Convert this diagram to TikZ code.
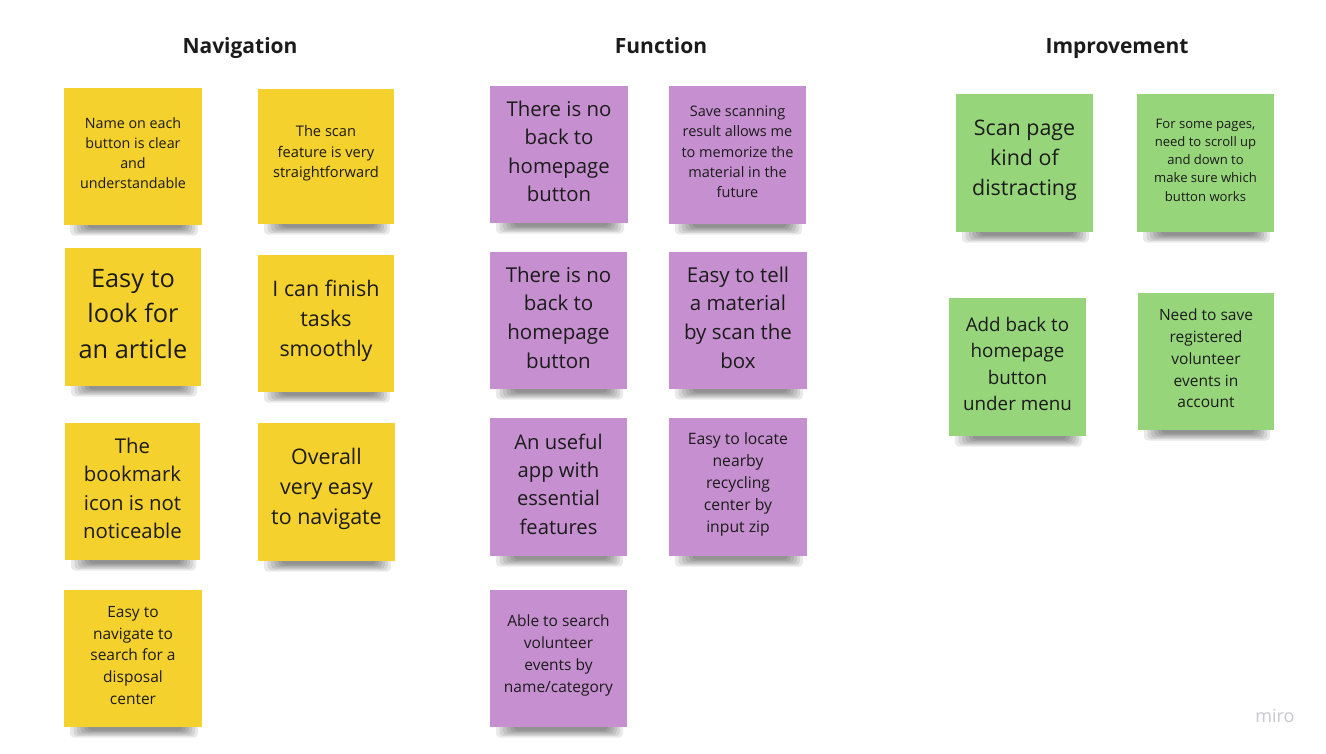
\documentclass[tikz,border=0pt]{standalone}
\usepackage{fontspec}
\setmainfont{Open Sans}
\definecolor{ylw}{HTML}{F5D12E}
\definecolor{prp}{HTML}{C690D0}
\definecolor{grn}{HTML}{97D57B}
\definecolor{ink}{HTML}{1B1B1B}
\definecolor{logo}{HTML}{C8C8D0}
\tikzset{
  notebox/.style={fill=#1, draw=none, inner sep=0pt},
  notetext/.style={align=center, text=ink, inner sep=0pt},
  head/.style={font=\bfseries\fontsize{21}{24}\selectfont, text=ink, anchor=base},
  shadowlayer/.style={fill=black, opacity=0.085, rounded corners=4pt},
}
% name, x1, y1, x2, y2, colour, line skip, text
\newcommand\stickynote[8]{%
  \foreach \k in {0,...,5}{%
    \fill[shadowlayer] ({#2+6+3.5*\k},{#5-8}) rectangle ({#4-4-3*\k},{#5+10.5-1.4*\k});
  }
  \pgfmathsetmacro\fsz{#7/1.4}%
  \node[notebox=#6, minimum width={(#4-#2)*1pt}, minimum height={(#5-#3)*1pt}] (#1) at ({(#2+#4)/2},{(#3+#5)/2}) {};
  \node[notetext, font={\fontsize{\fsz}{#7}\selectfont}] (#1-t) at ([yshift=3pt]#1.center) {#8};
}
\begin{document}
\begin{tikzpicture}[x=1pt,y=-1pt]
\useasboundingbox (0,0) rectangle (1326,753);
\fill[white] (0,0) rectangle (1326,753);

\node[head] (hnav) at (240,53.5) {Navigation};
\node[head] (hfun) at (661,53.5) {Function};
\node[head] (himp) at (1117,53.5) {Improvement};

% Navigation
\stickynote{n1}{64}{88}{202}{225}{ylw}{20}{Name on each\\button is clear\\and\\understandable}
\stickynote{n2}{258}{89}{394}{224}{ylw}{20.5}{The scan\\feature is very\\straightforward}
\stickynote{n3}{65}{248}{201}{386}{ylw}{35.5}{Easy to\\look for\\an article}
\stickynote{n4}{258}{255}{394}{392}{ylw}{30}{I can finish\\tasks\\smoothly}
\stickynote{n5}{65}{423}{200}{560}{ylw}{28.5}{The\\bookmark\\icon is not\\noticeable}
\stickynote{n6}{258}{423}{395}{561}{ylw}{30}{Overall\\very easy\\to navigate}
\stickynote{n7}{64}{590}{202}{727}{ylw}{21.7}{Easy to\\navigate to\\search for a\\disposal\\center}

% Function
\stickynote{f1}{490}{86}{628}{223}{prp}{28.5}{There is no\\back to\\homepage\\button}
\stickynote{f2}{669}{86}{806}{224}{prp}{20.3}{Save scanning\\result allows me\\to memorize the\\material in the\\future}
\stickynote{f3}{490}{252}{627}{389}{prp}{28.7}{There is no\\back to\\homepage\\button}
\stickynote{f4}{669}{252}{807}{389}{prp}{28.7}{Easy to tell\\a material\\by scan the\\box}
\stickynote{f5}{490}{418}{627}{556}{prp}{28.3}{An useful\\app with\\essential\\features}
\stickynote{f6}{669}{418}{807}{556}{prp}{22}{Easy to locate\\nearby\\recycling\\center by\\input zip}
\stickynote{f7}{490}{590}{627}{727}{prp}{21.7}{Able to search\\volunteer\\events by\\name/category}

% Improvement
\stickynote{i1}{956}{94}{1093}{232}{grn}{30}{Scan page\\kind of\\distracting}
\stickynote{i2}{1137}{94}{1274}{232}{grn}{18.3}{For some pages,\\need to scroll up\\and down to\\make sure which\\button works}
\stickynote{i3}{949}{298}{1086}{436}{grn}{26.3}{Add back to\\homepage\\button\\under menu}
\stickynote{i4}{1138}{293}{1274}{430}{grn}{21.7}{Need to save\\registered\\volunteer\\events in\\account}

\node[text=logo, font=\fontsize{18}{20}\selectfont] (miro) at (1275,716) {miro};
\end{tikzpicture}
\end{document}
